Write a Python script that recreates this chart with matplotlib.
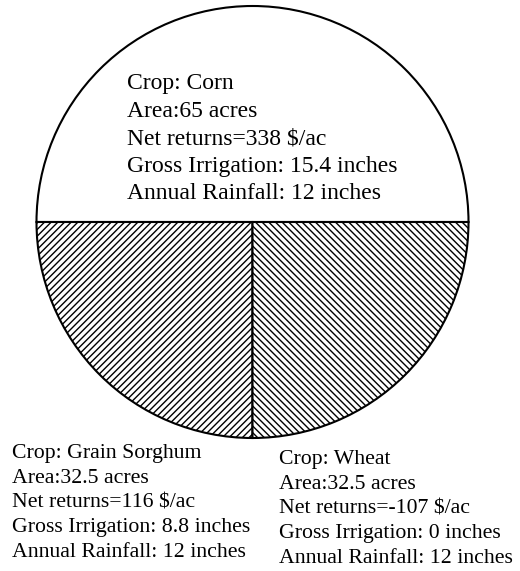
import matplotlib
matplotlib.use('Agg')
import matplotlib.pyplot as plt

plt.rcParams['font.family'] = ['Liberation Serif', 'DejaVu Serif']
plt.rcParams['hatch.linewidth'] = 1.0

# Data
crops = ['Corn', 'Grain Sorghum', 'Wheat']
area = [65, 32.5, 32.5]
net_returns = [338, 116, -107]
irrigation = ['15.4', '8.8', '0']
rainfall = [12, 12, 12]
hatches = ['', '/////', '\\\\\\\\\\']

W, H = 520, 571
fig = plt.figure(figsize=(W / 100, H / 100), dpi=100)
ax = fig.add_axes([0, 0, 1, 1])
ax.set_xlim(0, W)
ax.set_ylim(0, H)
ax.set_aspect('equal')
ax.axis('off')

cx, cy, r = 252.5, H - 222, 216
wedges, _ = ax.pie(area, startangle=0, counterclock=True, center=(cx, cy), radius=r,
                   colors=['white'] * 3,
                   wedgeprops=dict(edgecolor='black', linewidth=1.5))
for w, h in zip(wedges, hatches):
    w.set_hatch(h)
ax.set_xlim(0, W)
ax.set_ylim(0, H)

# label positions (left x, top y in pixels from top), font size
label_pos = [(127, 73, 17), (12, 444, 15.7), (279, 450, 15.7)]
for i, crop in enumerate(crops):
    txt = (f'Crop: {crop}\n'
           f'Area:{area[i]:g} acres\n'
           f'Net returns={net_returns[i]} $/ac\n'
           f'Gross Irrigation: {irrigation[i]} inches\n'
           f'Annual Rainfall: {rainfall[i]} inches')
    x, y, fs = label_pos[i]
    ax.text(x, H - y, txt, fontsize=fs, ha='left', va='top', linespacing=1.41)

fig.savefig('out.png', dpi=100)
